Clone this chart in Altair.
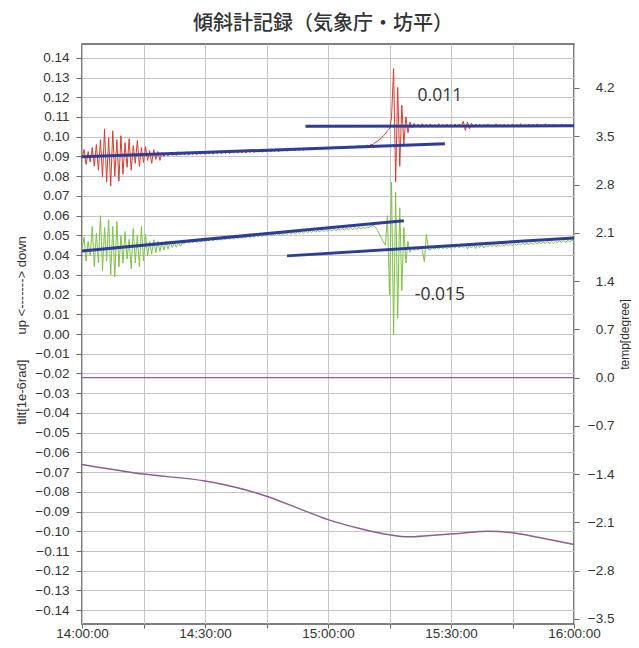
import altair as alt
import pandas as pd

# ---- data (time in minutes after 14:00, 0.5 min step) ----
STEP = 0.5
red_vals = [
    0.0890, 0.0935, 0.0860, 0.0925, 0.0872, 0.0945, 0.0850, 0.0960, 0.0830, 0.0985,
    0.0795, 0.1040, 0.0770, 0.0995, 0.0750, 0.1030, 0.0800, 0.0985, 0.0775, 0.1005,
    0.0810, 0.0970, 0.0845, 0.0990, 0.0830, 0.0955, 0.0865, 0.0980, 0.0850, 0.0945,
    0.0870, 0.0950, 0.0880, 0.0930, 0.0865, 0.0935, 0.0885, 0.0925, 0.0880, 0.0920,
    0.0900, 0.0918, 0.0903, 0.0921, 0.0905, 0.0922, 0.0904, 0.0924, 0.0907, 0.0921,
    0.0908, 0.0924, 0.0906, 0.0922, 0.0910, 0.0925, 0.0908, 0.0921, 0.0911, 0.0926,
    0.0910, 0.0924, 0.0912, 0.0927, 0.0911, 0.0925, 0.0914, 0.0928, 0.0913, 0.0926,
    0.0915, 0.0929, 0.0914, 0.0927, 0.0917, 0.0930, 0.0916, 0.0928, 0.0918, 0.0932,
    0.0917, 0.0930, 0.0920, 0.0933, 0.0919, 0.0931, 0.0922, 0.0935, 0.0921, 0.0933,
    0.0923, 0.0936, 0.0922, 0.0934, 0.0925, 0.0938, 0.0924, 0.0936, 0.0927, 0.0939,
    0.0926, 0.0937, 0.0929, 0.0941, 0.0928, 0.0940, 0.0931, 0.0943, 0.0930, 0.0941,
    0.0933, 0.0945, 0.0932, 0.0943, 0.0935, 0.0947, 0.0934, 0.0945, 0.0937, 0.0948,
    0.0936, 0.0947, 0.0939, 0.0950, 0.0938, 0.0949, 0.0941, 0.0952, 0.0940, 0.0951,
    0.0943, 0.0954, 0.0942, 0.0953, 0.0945, 0.0956, 0.0946, 0.0955, 0.0948, 0.0958,
    0.0952, 0.0962, 0.0960, 0.0972, 0.0975, 0.0986, 0.0992, 0.1005, 0.1015, 0.1030,
    0.1040, 0.1100, 0.1345, 0.0770, 0.1250, 0.0850, 0.1160, 0.0960, 0.1100, 0.1020,
    0.1075, 0.1045, 0.1068, 0.1050, 0.1064, 0.1048, 0.1066, 0.1052, 0.1063, 0.1049,
    0.1065, 0.1051, 0.1062, 0.1050, 0.1066, 0.1053, 0.1061, 0.1049, 0.1064, 0.1052,
    0.1062, 0.1050, 0.1065, 0.1051, 0.1063, 0.1052, 0.1078, 0.1032, 0.1074, 0.1040,
    0.1068, 0.1048, 0.1064, 0.1051, 0.1063, 0.1050, 0.1062, 0.1052, 0.1065, 0.1051,
    0.1061, 0.1049, 0.1066, 0.1052, 0.1063, 0.1050, 0.1064, 0.1051, 0.1062, 0.1053,
    0.1065, 0.1050, 0.1063, 0.1052, 0.1066, 0.1049, 0.1062, 0.1051, 0.1064, 0.1052,
    0.1063, 0.1050, 0.1065, 0.1051, 0.1062, 0.1053, 0.1066, 0.1050, 0.1063, 0.1051,
    0.1064, 0.1052, 0.1062, 0.1050, 0.1065, 0.1051, 0.1063, 0.1052, 0.1061, 0.1050,
    0.1058,
]
green_vals = [
    0.0430, 0.0490, 0.0370, 0.0470, 0.0395, 0.0545, 0.0340, 0.0510, 0.0360, 0.0600,
    0.0320, 0.0540, 0.0370, 0.0580, 0.0300, 0.0545, 0.0290, 0.0570, 0.0340, 0.0500,
    0.0360, 0.0520, 0.0380, 0.0480, 0.0330, 0.0535, 0.0360, 0.0500, 0.0340, 0.0545,
    0.0370, 0.0505, 0.0395, 0.0470, 0.0405, 0.0478, 0.0412, 0.0470, 0.0418, 0.0465,
    0.0425, 0.0470, 0.0430, 0.0468, 0.0438, 0.0462, 0.0440, 0.0465, 0.0445, 0.0462,
    0.0458, 0.0472, 0.0460, 0.0471, 0.0462, 0.0474, 0.0463, 0.0476, 0.0466, 0.0477,
    0.0469, 0.0481, 0.0471, 0.0483, 0.0472, 0.0484, 0.0474, 0.0486, 0.0476, 0.0487,
    0.0478, 0.0490, 0.0480, 0.0491, 0.0481, 0.0493, 0.0483, 0.0494, 0.0485, 0.0496,
    0.0487, 0.0498, 0.0488, 0.0500, 0.0490, 0.0501, 0.0492, 0.0503, 0.0494, 0.0505,
    0.0496, 0.0507, 0.0497, 0.0508, 0.0499, 0.0510, 0.0501, 0.0512, 0.0503, 0.0514,
    0.0505, 0.0515, 0.0506, 0.0517, 0.0508, 0.0518, 0.0510, 0.0520, 0.0511, 0.0521,
    0.0513, 0.0523, 0.0514, 0.0524, 0.0516, 0.0526, 0.0518, 0.0527, 0.0519, 0.0529,
    0.0521, 0.0530, 0.0522, 0.0532, 0.0524, 0.0533, 0.0526, 0.0535, 0.0527, 0.0536,
    0.0529, 0.0538, 0.0530, 0.0539, 0.0532, 0.0540, 0.0534, 0.0542, 0.0535, 0.0543,
    0.0540, 0.0546, 0.0550, 0.0544, 0.0528, 0.0508, 0.0488, 0.0468, 0.0450, 0.0600,
    0.0200, 0.0770, -0.0005, 0.0720, 0.0080, 0.0640, 0.0220, 0.0540, 0.0360, 0.0470,
    0.0415, 0.0440, 0.0423, 0.0436, 0.0425, 0.0438, 0.0426, 0.0367, 0.0505, 0.0428,
    0.0427, 0.0438, 0.0429, 0.0440, 0.0430, 0.0441, 0.0431, 0.0442, 0.0432, 0.0443,
    0.0434, 0.0444, 0.0435, 0.0446, 0.0436, 0.0447, 0.0438, 0.0452, 0.0432, 0.0449,
    0.0436, 0.0455, 0.0433, 0.0452, 0.0438, 0.0457, 0.0436, 0.0450, 0.0440, 0.0456,
    0.0442, 0.0454, 0.0443, 0.0452, 0.0445, 0.0454, 0.0446, 0.0455, 0.0447, 0.0456,
    0.0448, 0.0458, 0.0449, 0.0459, 0.0451, 0.0460, 0.0452, 0.0461, 0.0453, 0.0462,
    0.0455, 0.0464, 0.0456, 0.0465, 0.0457, 0.0466, 0.0459, 0.0468, 0.0460, 0.0469,
    0.0461, 0.0470, 0.0463, 0.0472, 0.0464, 0.0473, 0.0466, 0.0475, 0.0467, 0.0476,
    0.0472,
]

# temperature (right axis)
temp_t = [0, 15, 30, 34.5, 45, 52.5, 60, 68.5, 75, 79.5, 85, 92, 99, 105, 111.5, 120]
temp_v = [-1.26, -1.40, -1.50, -1.55, -1.72, -1.89, -2.06, -2.20, -2.28, -2.31,
          -2.29, -2.26, -2.23, -2.25, -2.32, -2.42]
flat_t = [0, 120]
flat_v = [0.0, 0.0]

# blue fitted trend segments
fit_t0 = [0, 54.5, 0, 50]
fit_v0 = [0.0898, 0.1053, 0.0421, 0.0396]
fit_t1 = [88.5, 120, 78.5, 120]
fit_v1 = [0.0964, 0.1055, 0.0574, 0.0487]

# annotations
ann_text = ["0.011", "-0.015"]
ann_t = [87.3, 87.3]
ann_v = [0.1206, 0.0200]

left_ticks = [round(-0.14 + 0.01 * i, 2) for i in range(29)]
right_ticks = [-3.5, -2.8, -2.1, -1.4, -0.7, 0.0, 0.7, 1.4, 2.1, 2.8, 3.5, 4.2]
x_ticks = [0, 15, 30, 45, 60, 75, 90, 105, 120]

TITLE = "傾斜計記録（気象庁・坊平）"
FONT = "Liberation Sans"
NB = "\u00a0"

red_df = pd.DataFrame({"t": [i * STEP for i in range(len(red_vals))], "v": red_vals})
green_df = pd.DataFrame({"t": [i * STEP for i in range(len(green_vals))], "v": green_vals})
temp_df = pd.DataFrame({"t": temp_t, "v": temp_v})
flat_df = pd.DataFrame({"t": flat_t, "v": flat_v})
fit_df = pd.DataFrame({"t0": fit_t0, "v0": fit_v0, "t1": fit_t1, "v1": fit_v1})
ann_df = pd.DataFrame({"label": ann_text, "t": ann_t, "v": ann_v})

xscale = alt.Scale(domain=[0, 120], nice=False, zero=False)
lscale = alt.Scale(domain=[-0.147, 0.147], nice=False, zero=False)
rscale = alt.Scale(domain=[-3.574, 4.838], nice=False, zero=False)

x_axis = alt.Axis(
    values=x_ticks,
    labelExpr="datum.value % 30 == 0 ? (14 + floor(datum.value / 60)) + ':' + (datum.value % 60 == 0 ? '00' : '30') + ':00' : ''",
    grid=True, gridColor="#c4c4c4", gridWidth=1,
    domain=False, ticks=True, tickSize=4, tickColor="#666",
    labelFont=FONT, labelFontSize=13.5, labelColor="#333", labelPadding=-2,
    labelFlush=False, labelOverlap=False, title=None,
)
left_axis = alt.Axis(
    values=left_ticks, format=".2f",
    grid=True, gridColor="#c4c4c4", gridWidth=1,
    domain=False, ticks=True, tickSize=6, tickColor="#666",
    labelFont=FONT, labelFontSize=13.5, labelColor="#333", labelPadding=7,
    labelOverlap=False,
    title="tilt[1e-6rad]" + NB * 7 + "up" + NB + "<------->" + NB + "down",
    titleFont=FONT, titleFontSize=13, titleFontWeight="normal", titleColor="#333",
    titleAngle=270, titleX=-61, titleY=286, titleAlign="center", titleBaseline="middle",
)
right_axis = alt.Axis(
    orient="right", values=right_ticks, format=".1f",
    grid=False, domain=False, ticks=True, tickSize=5, tickColor="#666",
    labelFont=FONT, labelFontSize=13.5, labelColor="#333",
    labelAlign="right", labelPadding=35, labelOverlap=False,
    title="temp[degree]",
    titleFont=FONT, titleFontSize=12, titleFontWeight="normal", titleColor="#333",
    titleAngle=270, titleX=50, titleY=290, titleAlign="center", titleBaseline="middle",
)

X = dict(scale=xscale, axis=x_axis)
YL = dict(scale=lscale, axis=left_axis)
YR = dict(scale=rscale, axis=right_axis)

red = alt.Chart(red_df).mark_line(color="#d83b2b", strokeWidth=1).encode(
    x=alt.X("t:Q", **X),
    y=alt.Y("v:Q", **YL),
)
green = alt.Chart(green_df).mark_line(color="#7dc243", strokeWidth=1).encode(
    x=alt.X("t:Q", **X),
    y=alt.Y("v:Q", **YL),
)
fits = alt.Chart(fit_df).mark_rule(color="#2d3d9a", strokeWidth=3).encode(
    x=alt.X("t0:Q", **X),
    x2="t1:Q",
    y=alt.Y("v0:Q", **YL),
    y2="v1:Q",
)
texts = alt.Chart(ann_df).mark_text(
    font="Open Sans", fontSize=17.5, color="#333", align="center", baseline="middle"
).encode(
    x=alt.X("t:Q", **X),
    y=alt.Y("v:Q", **YL),
    text="label:N",
)

temp = alt.Chart(temp_df).mark_line(color="#8e5d93", strokeWidth=1.5, interpolate="monotone").encode(
    x=alt.X("t:Q", **X),
    y=alt.Y("v:Q", **YR),
)
flat = alt.Chart(flat_df).mark_line(color="#8e5d93", strokeWidth=1.2).encode(
    x=alt.X("t:Q", **X),
    y=alt.Y("v:Q", **YR),
)

left = alt.layer(red, green, fits, texts)
right = alt.layer(flat, temp)

chart = alt.layer(left, right).resolve_scale(y="independent").properties(
    width=492, height=580,
    autosize="none",
    padding={"left": 74, "top": 36, "right": 57, "bottom": 16},
    title=alt.TitleParams(
        TITLE, font="Noto Sans CJK JP", fontSize=20, fontWeight=500, color="#333",
        anchor="middle", dx=-5, offset=10,
    ),
).configure(background="white").configure_view(stroke="#555", strokeWidth=1.5)

chart.save("out.html", embed_options={"renderer": "svg", "actions": False})
